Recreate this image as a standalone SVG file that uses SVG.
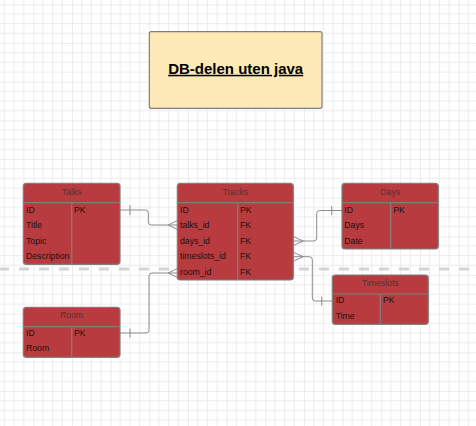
<svg xmlns="http://www.w3.org/2000/svg" width="476" height="426" viewBox="0 0 476 426">
<defs>
<pattern id="grid" patternUnits="userSpaceOnUse" x="33.333" y="4.333" width="38.667" height="38.667">
<rect width="38.667" height="38.667" fill="#ffffff"/>
<path d="M9.667 0V38.667M19.333 0V38.667M29 0V38.667M0 9.667H38.667M0 19.333H38.667M0 29H38.667" stroke="#ececec" stroke-width="1" fill="none"/>
<path d="M0 0V38.667M0 0H38.667" stroke="#dcdcdc" stroke-width="1" fill="none"/>
</pattern>
<style>
.tbl{fill:#b83c3f;stroke:#7f7f7f;stroke-width:1.2}
.sep{stroke:#7f7f7f;stroke-width:1.2;fill:none}
.hd{font-family:"Liberation Sans",Arial,sans-serif;font-size:8.7px;fill:#5a2e2e;text-anchor:middle}
.rw{font-family:"Liberation Sans",Arial,sans-serif;font-size:8.7px;fill:#1a1010}
.cn{stroke:#8c8c8c;stroke-width:1;fill:none}
</style>
</defs>
<rect width="476" height="426" fill="url(#grid)"/>
<line x1="-1" y1="269" x2="476" y2="269" stroke="#d4d4d4" stroke-width="3" stroke-dasharray="10 10"/>

<g id="title">
<rect x="149.3" y="31.7" width="172.7" height="76.6" rx="2" fill="#fde9b5" stroke="#7f7f7f" stroke-width="1.2"/>
<text x="235.7" y="73.8" font-family="'Liberation Sans',Arial,sans-serif" font-size="15" font-weight="bold" text-anchor="middle" text-decoration="underline" fill="#000">DB-delen uten java</text>
</g>

<g id="connectors">
<path class="cn" d="M120 210H145.3Q148.3 210 148.3 213V222Q148.3 225 151.3 225H177.3"/>
<path class="cn" d="M130 205V215M177.3 220.5L168.3 225L177.3 229.5"/>
<path class="cn" d="M120 333H146Q149 333 149 330V276Q149 273 152 273H177.3"/>
<path class="cn" d="M130 328.5V337.5M177.3 268.5L168.3 273L177.3 277.5"/>
<path class="cn" d="M293.3 241H313.7Q316.7 241 316.7 238V213.5Q316.7 210.5 319.7 210.5H342"/>
<path class="cn" d="M331.7 206V215M293.3 236.5L303.3 241L293.3 245.5"/>
<path class="cn" d="M293.3 256.7H309.3Q312.3 256.7 312.3 259.7V298Q312.3 301 315.3 301H332.3"/>
<path class="cn" d="M321.7 296.5V305.5M293.3 252.2L303.3 256.7L293.3 261.2"/>
</g>

<g id="talks">
<rect class="tbl" x="23.3" y="183.3" width="96.7" height="81" rx="3"/>
<path class="sep" d="M23.3 202.7H120M71.7 202.7V264.3"/>
<text class="hd" x="71.7" y="195">Talks</text>
<text class="rw" x="26" y="212.5">ID</text>
<text class="rw" x="74" y="212.5">PK</text>
<text class="rw" x="26" y="228">Title</text>
<text class="rw" x="26" y="243.5">Topic</text>
<text class="rw" x="26" y="259">Description</text>
</g>

<g id="tracks">
<rect class="tbl" x="177.3" y="183.3" width="116" height="96.7" rx="3"/>
<path class="sep" d="M177.3 202.7H293.3M237.7 202.7V280"/>
<text class="hd" x="235.3" y="195">Tracks</text>
<text class="rw" x="180" y="212.5">ID</text>
<text class="rw" x="240" y="212.5">PK</text>
<text class="rw" x="180" y="228">talks_id</text>
<text class="rw" x="240" y="228">FK</text>
<text class="rw" x="180" y="243.5">days_id</text>
<text class="rw" x="240" y="243.5">FK</text>
<text class="rw" x="180" y="259">timeslots_id</text>
<text class="rw" x="240" y="259">FK</text>
<text class="rw" x="180" y="274.5">room_id</text>
<text class="rw" x="240" y="274.5">FK</text>
</g>

<g id="days">
<rect class="tbl" x="342" y="183.3" width="96.3" height="65.7" rx="3"/>
<path class="sep" d="M342 202.7H438.3M390.7 202.7V249"/>
<text class="hd" x="390.2" y="195">Days</text>
<text class="rw" x="344.3" y="212.5">ID</text>
<text class="rw" x="393.3" y="212.5">PK</text>
<text class="rw" x="344.3" y="228">Days</text>
<text class="rw" x="344.3" y="243.5">Date</text>
</g>

<g id="timeslots">
<rect class="tbl" x="332.3" y="275" width="96" height="49.3" rx="3"/>
<path class="sep" d="M332.3 294H428.3M380.3 294V324.3"/>
<text class="hd" x="380.3" y="285.5">Timeslots</text>
<text class="rw" x="335.7" y="303">ID</text>
<text class="rw" x="383" y="303">PK</text>
<text class="rw" x="335.7" y="318.5">Time</text>
</g>

<g id="room">
<rect class="tbl" x="23.3" y="307.3" width="96.7" height="50" rx="3"/>
<path class="sep" d="M23.3 326.7H120M71.7 326.7V357.3"/>
<text class="hd" x="71.7" y="318">Room</text>
<text class="rw" x="26" y="335.5">ID</text>
<text class="rw" x="74" y="335.5">PK</text>
<text class="rw" x="26" y="351">Room</text>
</g>
</svg>
